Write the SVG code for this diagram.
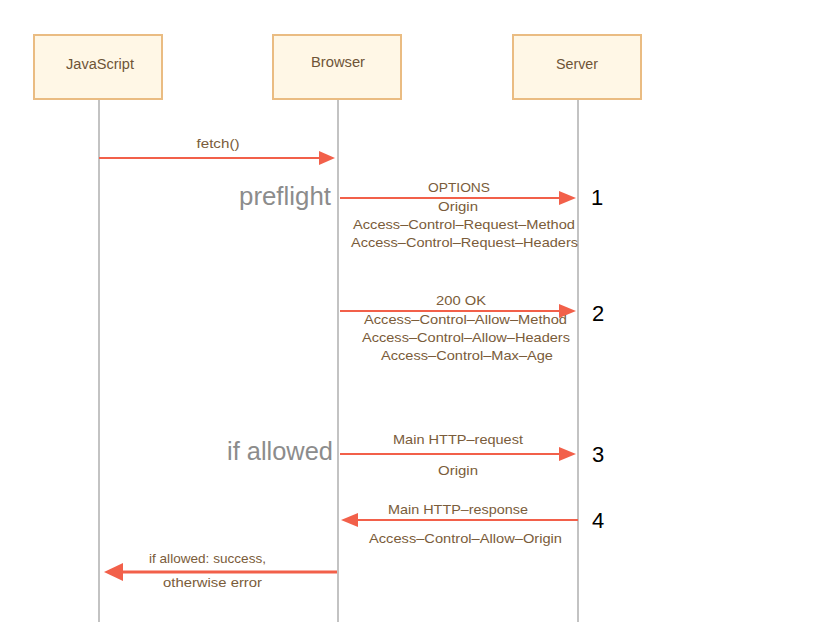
<svg xmlns="http://www.w3.org/2000/svg" width="835" height="641" viewBox="0 0 835 641">
<style>
.box{fill:#fff7e6;stroke:#eabc82;stroke-width:2}
.life{stroke:#c3c3c3;stroke-width:2;fill:none}
.arr{stroke:#f2604a;stroke-width:2;fill:none}
.arr3{stroke:#f2604a;stroke-width:3;fill:none}
.name{font-family:"Liberation Sans",Arial,sans-serif;font-size:14px;fill:#6e5437;text-anchor:middle}
.lbl{font-family:"Liberation Sans",Arial,sans-serif;font-size:13.5px;fill:#7a5c3a;text-anchor:middle}
.big{font-family:"Liberation Sans",Arial,sans-serif;font-size:25px;fill:#8c8c8c;text-anchor:end}
.num{font-family:"Liberation Sans",Arial,sans-serif;font-size:22px;fill:#000}
</style>
<rect width="835" height="641" fill="#fff"/>
<g id="lifelines">
<line class="life" x1="99" y1="99" x2="99" y2="622"/>
<line class="life" x1="338" y1="99" x2="338" y2="622"/>
<line class="life" x1="578" y1="99" x2="578" y2="622"/>
</g>
<g id="javascript"><rect class="box" x="34" y="35" width="128" height="64"/><text class="name" x="100" y="69" textLength="68" lengthAdjust="spacingAndGlyphs">JavaScript</text></g>
<g id="browser"><rect class="box" x="273" y="35" width="128" height="64"/><text class="name" x="338" y="67" textLength="54" lengthAdjust="spacingAndGlyphs">Browser</text></g>
<g id="server"><rect class="box" x="513" y="35" width="128" height="64"/><text class="name" x="577" y="69" textLength="42" lengthAdjust="spacingAndGlyphs">Server</text></g>
<g id="connectors">
<line x1="99" y1="158" x2="325" y2="158" class="arr"/>
<path d="M319,151 L335,158 L319,165 z" fill="#f2604a"/>
<line x1="340" y1="198" x2="565" y2="198" class="arr"/>
<path d="M559,191 L576,198 L559,205 z" fill="#f2604a"/>
<line x1="340" y1="311" x2="565" y2="311" class="arr"/>
<path d="M559,304 L576,311 L559,318 z" fill="#f2604a"/>
<line x1="340" y1="454" x2="565" y2="454" class="arr"/>
<path d="M559,447 L576,454 L559,461 z" fill="#f2604a"/>
<line x1="578" y1="520" x2="352" y2="520" class="arr"/>
<path d="M358,513 L341,520 L358,527 z" fill="#f2604a"/>
<line x1="337" y1="572" x2="118" y2="572" class="arr3"/>
<path d="M123,563 L104,572 L123,581 z" fill="#f2604a"/>
</g>
<g id="labels">
<text class="lbl" x="218" y="148" textLength="43" lengthAdjust="spacingAndGlyphs">fetch()</text>
<text class="lbl" x="459" y="192" textLength="62" lengthAdjust="spacingAndGlyphs">OPTIONS</text>
<text class="lbl" x="458" y="211" textLength="40" lengthAdjust="spacingAndGlyphs">Origin</text>
<text class="lbl" x="464" y="229" textLength="222" lengthAdjust="spacingAndGlyphs">Access–Control–Request–Method</text>
<text class="lbl" x="464.5" y="247" textLength="227" lengthAdjust="spacingAndGlyphs">Access–Control–Request–Headers</text>
<text class="lbl" x="461" y="305" textLength="50" lengthAdjust="spacingAndGlyphs">200 OK</text>
<text class="lbl" x="465.5" y="324" textLength="203" lengthAdjust="spacingAndGlyphs">Access–Control–Allow–Method</text>
<text class="lbl" x="466" y="342" textLength="208" lengthAdjust="spacingAndGlyphs">Access–Control–Allow–Headers</text>
<text class="lbl" x="467" y="360" textLength="172" lengthAdjust="spacingAndGlyphs">Access–Control–Max–Age</text>
<text class="lbl" x="458" y="444" textLength="130" lengthAdjust="spacingAndGlyphs">Main HTTP–request</text>
<text class="lbl" x="458" y="475" textLength="40" lengthAdjust="spacingAndGlyphs">Origin</text>
<text class="lbl" x="458" y="514" textLength="140" lengthAdjust="spacingAndGlyphs">Main HTTP–response</text>
<text class="lbl" x="465.5" y="543" textLength="193" lengthAdjust="spacingAndGlyphs">Access–Control–Allow–Origin</text>
<text class="lbl" x="207.5" y="563" textLength="117" lengthAdjust="spacingAndGlyphs">if allowed: success,</text>
<text class="lbl" x="212.5" y="587" textLength="99" lengthAdjust="spacingAndGlyphs">otherwise error</text>
<text class="big" x="331" y="205" textLength="92" lengthAdjust="spacingAndGlyphs">preflight</text>
<text class="big" x="333" y="460" textLength="106" lengthAdjust="spacingAndGlyphs">if allowed</text>
<text class="num" x="591" y="205">1</text>
<text class="num" x="592" y="321">2</text>
<text class="num" x="592" y="462">3</text>
<text class="num" x="592" y="528">4</text>
</g>
</svg>
